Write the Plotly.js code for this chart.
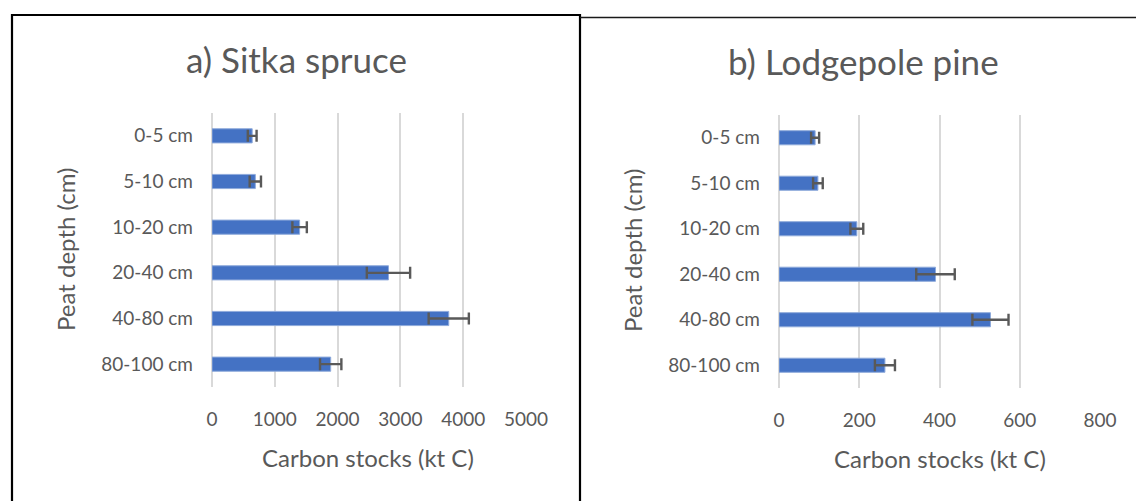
<!DOCTYPE html>
<html>
<head>
<meta charset="utf-8">
<script src="https://cdn.plot.ly/plotly-3.0.1.min.js"></script>
<style>
  html, body { margin: 0; padding: 0; background: #ffffff; }
  #chart { width: 1136px; height: 501px; }
</style>
</head>
<body>
<div id="chart"></div>
<script>
// Peat depth classes (top to bottom)
const depths = ['0-5 cm', '5-10 cm', '10-20 cm', '20-40 cm', '40-80 cm', '80-100 cm'];

// a) Sitka spruce carbon stocks (kt C) and error
const sitkaStock = [640, 690, 1395, 2810, 3770, 1890];
const sitkaErr   = [70, 90, 115, 345, 320, 170];

// b) Lodgepole pine carbon stocks (kt C) and error
const lodgeStock = [90, 97, 194, 390, 527, 264];
const lodgeErr   = [10, 12, 16, 48, 45, 25];

const titleA = 'a) Sitka spruce';
const titleB = 'b) Lodgepole pine';
const xTitle = 'Carbon stocks (kt C)';
const yTitle = 'Peat depth (cm)';

const W = 1136, H = 501;
const px = v => v / W;           // horizontal pixel -> paper
const py = v => (H - v) / H;     // vertical pixel (from top) -> paper

const FONT = 'Lato, "Open Sans", sans-serif';
const GREY = '#595959';
const BAR = '#4472C4';

function barTrace(vals, errs, xa, ya) {
  return {
    type: 'bar',
    orientation: 'h',
    y: depths,
    x: vals,
    xaxis: xa,
    yaxis: ya,
    width: 0.31,
    marker: { color: BAR, line: { color: '#8eaadb', width: 1 } },
    error_x: { type: 'data', array: errs, visible: true, color: GREY, thickness: 2.4, width: 6 },
    hoverinfo: 'skip'
  };
}

const data = [
  barTrace(sitkaStock, sitkaErr, 'x', 'y'),
  barTrace(lodgeStock, lodgeErr, 'x2', 'y2')
];

function xAxis(domain, range, dtick) {
  return {
    domain: domain,
    range: range,
    dtick: dtick,
    tick0: 0,
    showgrid: true,
    gridcolor: '#d9d9d9',
    gridwidth: 2,
    zeroline: true,
    zerolinecolor: '#d9d9d9',
    zerolinewidth: 2,
    showline: false,
    ticks: '',
    ticklabelstandoff: 19,
    tickfont: { family: FONT, size: 19, color: GREY },
    fixedrange: true
  };
}

function yAxis(domain, anchor) {
  return {
    domain: domain,
    anchor: anchor,
    type: 'category',
    autorange: 'reversed',
    showgrid: false,
    zeroline: false,
    showline: false,
    ticks: '',
    ticklabelstandoff: 18,
    tickfont: { family: FONT, size: 19, color: GREY },
    fixedrange: true
  };
}

const layout = {
  width: W,
  height: H,
  margin: { l: 0, r: 0, t: 0, b: 0 },
  paper_bgcolor: '#ffffff',
  plot_bgcolor: 'rgba(0,0,0,0)',
  showlegend: false,
  xaxis: Object.assign(xAxis([px(212), px(526)], [0, 5000], 1000), { anchor: 'y' }),
  yaxis: yAxis([py(387), py(113)], 'x'),
  xaxis2: Object.assign(xAxis([px(779), px(1100)], [0, 800], 200), { anchor: 'y2' }),
  yaxis2: yAxis([py(388), py(115)], 'x2'),
  annotations: [
    { text: titleA, x: px(296), y: py(59), xref: 'paper', yref: 'paper', showarrow: false,
      xanchor: 'center', yanchor: 'middle', font: { family: FONT, size: 35, color: GREY } },
    { text: titleB, x: px(863), y: py(61), xref: 'paper', yref: 'paper', showarrow: false,
      xanchor: 'center', yanchor: 'middle', font: { family: FONT, size: 35, color: GREY } },
    { text: xTitle, x: px(368), y: py(457), xref: 'paper', yref: 'paper', showarrow: false,
      xanchor: 'center', yanchor: 'middle', font: { family: FONT, size: 24, color: GREY } },
    { text: xTitle, x: px(940), y: py(458), xref: 'paper', yref: 'paper', showarrow: false,
      xanchor: 'center', yanchor: 'middle', font: { family: FONT, size: 24, color: GREY } },
    { text: yTitle, x: px(65), y: py(250), xref: 'paper', yref: 'paper', showarrow: false,
      textangle: -90, xanchor: 'center', yanchor: 'middle', font: { family: FONT, size: 24, color: GREY } },
    { text: yTitle, x: px(632), y: py(251), xref: 'paper', yref: 'paper', showarrow: false,
      textangle: -90, xanchor: 'center', yanchor: 'middle', font: { family: FONT, size: 24, color: GREY } }
  ],
  shapes: [
    // frame round panel a
    { type: 'rect', xref: 'paper', yref: 'paper', x0: px(12), x1: px(580), y0: py(520), y1: py(15),
      line: { color: '#000000', width: 2.2 }, fillcolor: 'rgba(0,0,0,0)' },
    // top edge of panel b
    { type: 'line', xref: 'paper', yref: 'paper', x0: px(580), x1: px(1140), y0: py(17.5), y1: py(17.5),
      line: { color: '#1a1a1a', width: 1.3 } }
  ]
};

Plotly.newPlot('chart', data, layout, { displayModeBar: false, staticPlot: true });
</script>
</body>
</html>
